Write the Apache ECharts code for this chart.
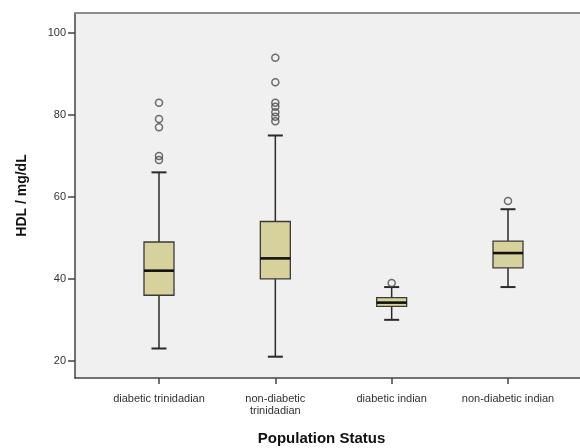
<!DOCTYPE html>
<html>
<head>
<meta charset="utf-8">
<script src="https://cdn.jsdelivr.net/npm/echarts@6/dist/echarts.min.js"></script>
<style>
  html, body { margin: 0; padding: 0; background: #fff; }
  #chart { width: 580px; height: 448px; }
</style>
</head>
<body>
<div id="chart"></div>
<script>
// population groups
var categories = ['diabetic trinidadian', 'non-diabetic\ntrinidadian', 'diabetic indian', 'non-diabetic indian'];
// box stats (HDL mg/dL)
var lowWhisker  = [23, 21, 30, 38];
var q1          = [36, 40, 33.3, 42.7];
var median      = [42, 45, 34.2, 46.3];
var q3          = [49, 54, 35.4, 49.2];
var highWhisker = [66, 75, 38, 57];
// outliers as [group index, value]
var outliers = [
    [0, 83], [0, 79], [0, 77], [0, 70], [0, 69],
    [1, 94], [1, 88], [1, 83], [1, 82], [1, 80.7], [1, 79.6], [1, 78.5],
    [2, 39],
    [3, 59]
];
var yTicks = [20, 40, 60, 80, 100];
var xTicks = [0, 1, 2, 3];

var boxRows = [];
for (var i = 0; i < categories.length; i++) {
    boxRows.push([i, lowWhisker[i], q1[i], median[i], q3[i], highWhisker[i]]);
}

function renderBox(params, api) {
    var x = api.value(0);
    var lo = api.coord([x, api.value(1)]);
    var b1 = api.coord([x, api.value(2)]);
    var md = api.coord([x, api.value(3)]);
    var b3 = api.coord([x, api.value(4)]);
    var hi = api.coord([x, api.value(5)]);
    var cx = lo[0];
    var hb = 15, hc = 7.5;
    var lineStyle = { stroke: '#2a2a2a', lineWidth: 1.5 };
    return {
        type: 'group',
        children: [
            { type: 'line', shape: { x1: cx, y1: lo[1], x2: cx, y2: b1[1] }, style: lineStyle },
            { type: 'line', shape: { x1: cx, y1: b3[1], x2: cx, y2: hi[1] }, style: lineStyle },
            { type: 'line', shape: { x1: cx - hc, y1: lo[1], x2: cx + hc, y2: lo[1] }, style: { stroke: '#2a2a2a', lineWidth: 2 } },
            { type: 'line', shape: { x1: cx - hc, y1: hi[1], x2: cx + hc, y2: hi[1] }, style: { stroke: '#2a2a2a', lineWidth: 2 } },
            { type: 'rect', shape: { x: cx - hb, y: b3[1], width: hb * 2, height: b1[1] - b3[1] },
              style: { fill: '#d7d19c', stroke: '#3a3a3a', lineWidth: 1.3 } },
            { type: 'line', shape: { x1: cx - hb, y1: md[1], x2: cx + hb, y2: md[1] }, style: { stroke: '#111', lineWidth: 2.6 } }
        ]
    };
}

var chart = echarts.init(document.getElementById('chart'));
var option = {
    backgroundColor: '#ffffff',
    animation: false,
    grid: {
        left: 75,
        top: 13,
        right: -12,
        bottom: 70,
        outerBoundsMode: 'none',
        show: true,
        backgroundColor: '#f0f0f0',
        borderWidth: 0
    },
    xAxis: [{
        type: 'value',
        min: -0.722,
        max: 3.722,
        name: 'Population Status',
        nameLocation: 'middle',
        nameGap: 53,
        nameTextStyle: {
            fontFamily: 'Liberation Sans',
            fontWeight: 'bold',
            fontSize: 15,
            color: '#111',
            padding: [0, 24, 0, 0]
        },
        splitLine: { show: false },
        axisLine: { show: true, onZero: false, lineStyle: { color: '#444', width: 1.5 } },
        axisTick: { show: true, length: 6, customValues: xTicks, lineStyle: { color: '#444', width: 1.5 } },
        axisLabel: {
            customValues: xTicks,
            margin: 15,
            fontFamily: 'Liberation Sans',
            fontSize: 11,
            lineHeight: 12,
            color: '#333',
            formatter: function (v) { return categories[Math.round(v)]; }
        }
    }, {
        // top frame line only
        type: 'value',
        position: 'top',
        min: -0.722,
        max: 3.722,
        splitLine: { show: false },
        axisLine: { show: true, onZero: false, lineStyle: { color: '#8c8c8c', width: 2 } },
        axisTick: { show: false },
        axisLabel: { show: false }
    }],
    yAxis: {
        type: 'value',
        min: 15.8,
        max: 104.9,
        name: 'HDL / mg/dL',
        nameLocation: 'middle',
        nameGap: 46,
        nameTextStyle: {
            fontFamily: 'Liberation Sans',
            fontWeight: 'bold',
            fontSize: 14,
            color: '#111'
        },
        splitLine: { show: false },
        axisLine: { show: true, onZero: false, lineStyle: { color: '#444', width: 1.5 } },
        axisTick: { show: true, length: 7, customValues: yTicks, lineStyle: { color: '#444', width: 1.5 } },
        axisLabel: {
            customValues: yTicks,
            margin: 9,
            fontFamily: 'Liberation Sans',
            fontSize: 11,
            color: '#333'
        }
    },
    series: [
        {
            type: 'custom',
            renderItem: renderBox,
            encode: { x: 0, y: [1, 2, 3, 4, 5] },
            data: boxRows
        },
        {
            type: 'scatter',
            symbol: 'circle',
            symbolSize: 7,
            itemStyle: { color: 'rgba(0,0,0,0)', borderColor: '#4a4a4a', borderWidth: 1.5 },
            data: outliers
        }
    ]
};
chart.setOption(option);
</script>
</body>
</html>
